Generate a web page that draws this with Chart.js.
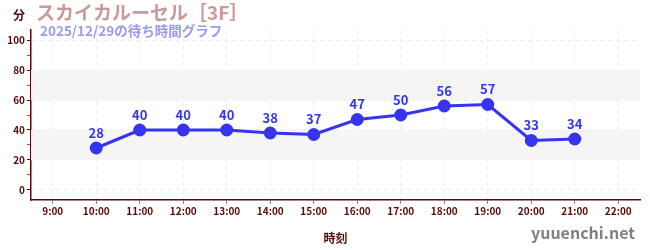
<!DOCTYPE html>
<html><head><meta charset="utf-8">
<script src="https://cdn.jsdelivr.net/npm/chart.js@4.4.0/dist/chart.umd.min.js"></script>
<style>html,body{margin:0;padding:0;background:#fff}#wrap{width:650px;height:250px;position:relative}</style>
</head><body><div id="wrap"><canvas id="c" width="650" height="250"></canvas></div>
<script>
const categories = ['9:00','10:00','11:00','12:00','13:00','14:00','15:00','16:00','17:00','18:00','19:00','20:00','21:00','22:00'];
const waitTimes = [null,28,40,40,40,38,37,47,50,56,57,33,34,null];
const titleText = 'スカイカルーセル［3F］';
const subtitleText = '2025/12/29の待ち時間グラフ';
const yUnit = '分';
const xTitle = '時刻';
const siteText = 'yuuenchi.net';
const bands = [[20,40],[60,80]];

const FONT = '"Noto Sans CJK JP","Noto Sans",sans-serif';
const DARK = '#5a0a0a';
const BLUE = '#3535f0';

const plugin = {
  id: 'extras',
  beforeDatasetsDraw(chart) {
    const {ctx, chartArea: a, scales: {y}} = chart;
    ctx.save();
    ctx.fillStyle = '#f5f5f5';
    bands.forEach(([lo, hi]) => {
      const t = y.getPixelForValue(hi), b = y.getPixelForValue(lo);
      ctx.fillRect(a.left, t, a.right - a.left, b - t);
    });
    ctx.restore();
  },
  afterDraw(chart) {
    const {ctx} = chart;
    ctx.save();
    const meta = chart.getDatasetMeta(0);
    ctx.fillStyle = BLUE;
    ctx.font = 'bold 13px ' + FONT;
    ctx.textAlign = 'center';
    ctx.textBaseline = 'middle';
    meta.data.forEach((pt, i) => {
      const v = waitTimes[i];
      if (v == null) return;
      ctx.fillText(String(v), pt.x, pt.y - 15);
    });
    ctx.textAlign = 'left';
    ctx.fillStyle = '#c99a9a';
    ctx.font = 'bold 19px ' + FONT;
    ctx.fillText(titleText, 36, 13);
    ctx.fillStyle = '#9a9af0';
    ctx.font = 'bold 13.5px ' + FONT;
    ctx.fillText(subtitleText, 40, 31);
    ctx.fillStyle = DARK;
    ctx.font = 'bold 12px ' + FONT;
    ctx.fillText(yUnit, 13, 15);
    ctx.fillStyle = '#808080';
    ctx.font = 'bold 16px ' + FONT;
    ctx.textAlign = 'right';
    ctx.fillText(siteText, 635, 233);
    ctx.restore();
  }
};

new Chart(document.getElementById('c'), {
  type: 'line',
  data: {
    labels: categories,
    datasets: [{
      data: waitTimes,
      borderColor: BLUE,
      backgroundColor: BLUE,
      borderWidth: 3,
      pointRadius: 5,
      pointHoverRadius: 5,
      tension: 0,
      spanGaps: false
    }]
  },
  options: {
    responsive: false,
    animation: false,
    devicePixelRatio: 1,
    layout: {padding: {top: 30, right: 10, left: 0, bottom: 0}},
    plugins: {legend: {display: false}, tooltip: {enabled: false}, title: {display: false}},
    scales: {
      x: {
        type: 'category',
        offset: true,
        afterFit: s => { s.height = 50; },
        grid: {
          offset: false,
          color: '#ececec',
          tickColor: '#888',
          tickLength: 4,
          drawOnChartArea: true
        },
        border: {color: DARK, width: 1.5, dash: [4, 4]},
        ticks: {color: DARK, font: {family: FONT, size: 10, weight: 'bold'}, padding: 1, maxRotation: 0, autoSkip: false},
        title: {display: true, text: xTitle, color: DARK, font: {family: FONT, size: 12, weight: 'bold'}, padding: {top: 4}}
      },
      y: {
        min: -6.67,
        max: 106.67,
        afterFit: s => { s.width = 31; },
        grid: {
          color: c => (c.tick && c.tick.value % 20 === 0) ? '#ececec' : 'rgba(0,0,0,0)',
          tickColor: c => (c.tick && c.tick.value % 20 === 0) ? '#222' : '#e03030',
          tickLength: 4
        },
        border: {color: DARK, width: 1.5, dash: [4, 4]},
        ticks: {
          stepSize: 10,
          includeBounds: false,
          autoSkip: false,
          color: DARK,
          padding: 2,
          font: {family: FONT, size: 10, weight: 'bold'},
          callback: v => (v % 20 === 0 ? String(v) : '')
        }
      }
    }
  },
  plugins: [plugin]
});
</script></body></html>
